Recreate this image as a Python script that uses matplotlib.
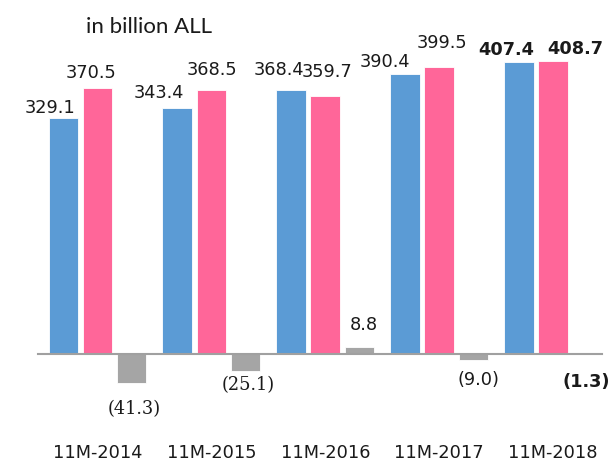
import matplotlib
matplotlib.use("Agg")
import matplotlib.pyplot as plt
from matplotlib.transforms import blended_transform_factory

# data (in billion ALL)
periods = ["11M-2014", "11M-2015", "11M-2016", "11M-2017", "11M-2018"]
blue_vals = [329.1, 343.4, 368.4, 390.4, 407.4]
pink_vals = [370.5, 368.5, 359.7, 399.5, 408.7]
gray_vals = [-41.3, -25.1, 8.8, -9.0, -1.3]

# label nudges in pixels (dx right, dy down) from the bar end, as in the picture
blue_nudge = [(-13, -10), (-18, -15), (-12, -20), (-20, -12), (-13, -12)]
pink_nudge = [(-6, -15), (1, -20), (2, -24), (3, -24), (22, -12)]
gray_nudge = [(3, 26), (3, 14), (4, -22), (5, 20), (-1, 28)]

BLUE = "#5B9BD5"
PINK = "#FF6699"
GRAY = "#A5A5A5"
TXT = "#1a1a1a"


def fmt(v):
    return "(%.1f)" % abs(v) if v < 0 else "%.1f" % v


fig = plt.figure(figsize=(6.14, 4.61), dpi=100)
ax = fig.add_axes([0, 0, 1, 1])
ax.set_xlim(-0.856, 4.535)
ax.set_ylim(-150.1, 493.7)
ax.axis("off")

w = 0.26
step = 0.30
x = list(range(len(periods)))

for vals, off, col, nudge, fam in [
    (blue_vals, -step, BLUE, blue_nudge, "DejaVu Sans"),
    (pink_vals, 0.0, PINK, pink_nudge, "DejaVu Sans"),
    (gray_vals, step, GRAY, gray_nudge, None),
]:
    pos = [i + off for i in x]
    ax.bar(pos, vals, width=w, color=col, edgecolor="white", linewidth=0.6, zorder=2)
    for i, (p, v) in enumerate(zip(pos, vals)):
        dx, dy = nudge[i]
        family = fam
        if family is None:
            family = "DejaVu Serif" if i < 2 else "DejaVu Sans"
        bold = i == len(periods) - 1
        ax.annotate(fmt(v), (p, v), xytext=(dx, -dy), textcoords="offset pixels",
                    ha="center", va="center", fontsize=12.8, family=family,
                    fontweight="bold" if bold else "normal", color=TXT)

ax.axhline(0, xmin=0.062, xmax=0.98, color="#A0A0A0", linewidth=1.5, zorder=3)

trans = blended_transform_factory(ax.transData, fig.transFigure)
for i, name in enumerate(periods):
    ax.text(i, 8 / 461, name, transform=trans, ha="center", va="center",
            fontsize=12.8, color=TXT)

fig.text(149 / 614, 1 - 27 / 461, "in billion ALL", ha="center", va="center",
         fontsize=16, family="Lato", color=TXT)

fig.savefig("out.png", dpi=100)
